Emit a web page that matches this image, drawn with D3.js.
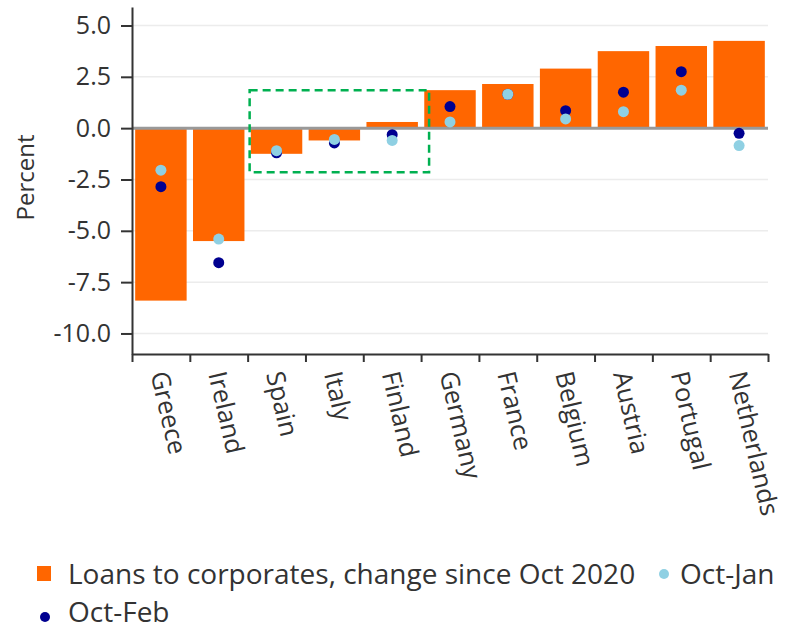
<html>

<head>
    <style>
        body { margin: 0; background: #fff; }
        text { font-family: "Open Sans", sans-serif; fill: #333; }
    </style>
</head>

<body>
    <svg id="container" height="630" width="790"></svg>
</body>
<script src="https://cdn.jsdelivr.net/npm/d3@7"></script>
<script>
    // values
    let countries = ["Greece", "Ireland", "Spain", "Italy", "Finland", "Germany", "France", "Belgium", "Austria", "Portugal", "Netherlands"]
    let loans = [-8.4, -5.5, -1.25, -0.6, 0.3, 1.85, 2.15, 2.9, 3.75, 4.0, 4.25]
    let octJan = [-2.05, -5.4, -1.1, -0.55, -0.6, 0.3, 1.65, 0.45, 0.8, 1.85, -0.85]
    let octFeb = [-2.85, -6.55, -1.2, -0.72, -0.32, 1.05, 1.65, 0.85, 1.75, 2.75, -0.25]
    let yTicks = [5, 2.5, 0, -2.5, -5, -7.5, -10]
    let highlight = { first: "Spain", last: "Finland", top: 1.85, bottom: -2.15 }

    let svg = d3.select("#container")
    let plotLeft = 132, plotRight = 768, plotTop = 7, plotBottom = 354

    let x = d3.scaleBand().domain(countries).range([plotLeft, plotRight]).padding(0)
    let xEdge = d3.scaleLinear().domain([0, countries.length]).range([plotLeft, plotRight])
    let y = d3.scaleLinear().domain([-11, 5.9]).range([plotBottom, plotTop])

    // gridlines
    svg.append("g")
        .selectAll("line")
        .data(yTicks)
        .join("line")
        .attr("x1", plotLeft).attr("x2", plotRight)
        .attr("y1", d => y(d)).attr("y2", d => y(d))
        .attr("stroke", "#ececec")
        .attr("stroke-width", 1.5)

    // bars
    let barW = x.bandwidth() * 0.89
    svg.append("g")
        .selectAll("rect")
        .data(countries)
        .join("rect")
        .attr("x", d => x(d) + (x.bandwidth() - barW) / 2)
        .attr("width", barW)
        .attr("y", (d, i) => y(Math.max(0, loans[i])))
        .attr("height", (d, i) => Math.abs(y(loans[i]) - y(0)))
        .attr("fill", "#ff6600")

    // zero line
    svg.append("line")
        .attr("x1", plotLeft).attr("x2", plotRight)
        .attr("y1", y(0)).attr("y2", y(0))
        .attr("stroke", "#999")
        .attr("stroke-width", 3)

    // dots: Oct-Feb first, Oct-Jan on top
    svg.append("g")
        .selectAll("circle")
        .data(countries)
        .join("circle")
        .attr("cx", d => x(d) + x.bandwidth() / 2)
        .attr("cy", (d, i) => y(octFeb[i]))
        .attr("r", 5.5)
        .attr("fill", "#000090")

    svg.append("g")
        .selectAll("circle")
        .data(countries)
        .join("circle")
        .attr("cx", d => x(d) + x.bandwidth() / 2)
        .attr("cy", (d, i) => y(octJan[i]))
        .attr("r", 5.5)
        .attr("fill", "#8fd0e3")

    // highlight box
    let hx0 = x(highlight.first) + 2
    let hx1 = x(highlight.last) + x.bandwidth() + 8
    svg.append("rect")
        .attr("x", hx0).attr("y", y(highlight.top))
        .attr("width", hx1 - hx0)
        .attr("height", y(highlight.bottom) - y(highlight.top))
        .attr("fill", "none")
        .attr("stroke", "#00b050")
        .attr("stroke-width", 2.5)
        .attr("stroke-dasharray", "8,5")

    // y axis
    let yAxis = svg.append("g")
        .attr("transform", "translate(" + plotLeft + ",0)")
        .call(d3.axisLeft(y)
            .tickValues(yTicks)
            .tickFormat(d => d.toFixed(1))
            .tickSize(11)
            .tickSizeOuter(0)
            .tickPadding(10))
    yAxis.selectAll("text").style("font-size", "25px").style("font-family", "Open Sans").attr("fill", "#333")

    // x axis: ticks on band edges, labels rotated
    let xAxis = svg.append("g")
        .attr("transform", "translate(0," + plotBottom + ")")
        .call(d3.axisBottom(xEdge)
            .tickValues(d3.range(countries.length + 1))
            .tickFormat("")
            .tickSize(8)
            .tickSizeOuter(0))

    svg.selectAll(".domain, .tick line").attr("stroke", "#333").attr("stroke-width", 2)

    svg.append("g")
        .selectAll("text")
        .data(countries)
        .join("text")
        .attr("transform", d => "translate(" + (x(d) + x.bandwidth() / 2 - 4) + "," + (plotBottom + 8) + ") rotate(77)")
        .attr("x", 10)
        .attr("dy", "0.35em")
        .style("font-size", "25.5px")
        .text(d => d)

    // y axis title
    svg.append("text")
        .attr("transform", "translate(34," + y(-2.4) + ") rotate(-90)")
        .attr("text-anchor", "middle")
        .style("font-size", "24px")
        .text("Percent")

    // legend
    let legend = svg.append("g")
    legend.append("rect").attr("x", 37).attr("y", 566).attr("width", 14).attr("height", 15).attr("fill", "#ff6600")
    legend.append("text").attr("x", 68).attr("y", 584).style("font-size", "28px").text("Loans to corporates, change since Oct 2020")
    legend.append("circle").attr("cx", 664).attr("cy", 574).attr("r", 5).attr("fill", "#8fd0e3")
    legend.append("text").attr("x", 680).attr("y", 584).style("font-size", "28px").text("Oct-Jan")
    legend.append("circle").attr("cx", 45).attr("cy", 617).attr("r", 5).attr("fill", "#000090")
    legend.append("text").attr("x", 68).attr("y", 622).style("font-size", "28px").text("Oct-Feb")
</script>

</html>
